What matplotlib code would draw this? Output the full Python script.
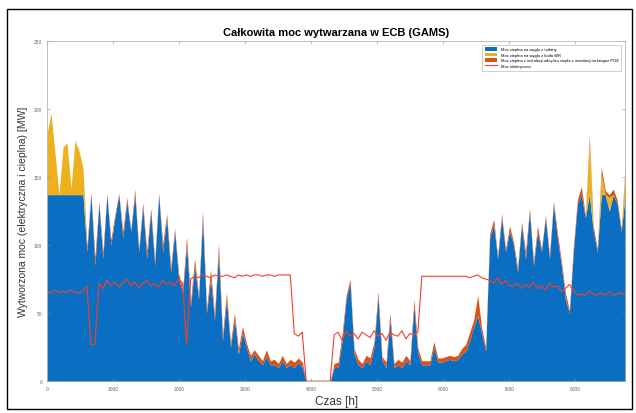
import numpy as np
import matplotlib
matplotlib.use("Agg")
import matplotlib.pyplot as plt
from matplotlib.patches import Rectangle

plt.rcParams['font.family'] = ['Liberation Sans', 'DejaVu Sans']

# heat from coal - turbine [MW]
blue = [137, 137, 137, 137, 137, 137, 137, 137, 137, 137,
        95, 137, 85, 130, 90, 137, 100,
        120, 137, 105, 132, 110, 137, 95, 128,
        90, 125, 85, 137, 95, 120, 80, 110, 75,
        65, 100, 55, 85, 60, 120, 50, 75, 45, 95,
        30, 60, 25, 45, 20, 35, 25, 15, 20, 15, 12, 18, 12,
        12, 10, 15, 10, 12, 10, 14, 10,
        0, 0, 0, 0, 0, 0, 0,
        10, 10, 30, 60, 72, 20, 12, 10, 15, 12, 25, 62, 15, 10, 45, 10, 12, 10, 15, 12,
        55, 20,
        12, 12, 12, 25, 14, 14, 15, 16, 15,
        16, 20, 22, 30, 40, 48, 35, 22, 105,
        115, 90, 120, 95, 110,
        100, 80, 115, 90, 125, 85, 110, 95, 120, 90, 130, 105, 85, 60, 50,
        95, 130, 137, 120, 137, 110, 95, 137, 137, 125, 137, 130, 110, 137]

# heat from coal - WR boiler [MW]
yellow = [45, 60, 30, 0, 35, 38, 5, 40, 32, 20] + [0] * 126 + \
         [40, 0, 0, 15, 0, 10, 0, 0, 0, 20]

# heat from the third unit [MW]
orange = [0] * 10 + \
         [4, 2, 6, 2, 5, 1, 4, 2, 1, 5, 3, 1, 4, 2, 3, 6, 2, 4, 1, 6, 3, 4, 2, 4,
          3, 6, 4, 5, 3, 5, 3, 7, 4, 6, 4, 5, 3, 5, 4, 5, 3, 4, 3, 4, 3, 5, 3, 4,
          3, 4, 3, 4, 4, 3, 4] + \
         [0] * 7 + \
         [3, 4, 5, 3, 3, 4, 4, 3, 4, 5, 4, 4, 3, 4, 5, 3, 4, 4, 4, 3, 5, 4,
          3, 3, 3, 4, 3, 3, 3, 3, 3, 3, 4, 5, 6, 5, 15, 4, 3, 3,
          4, 2, 3, 2, 4, 2, 3, 2, 5, 2, 3, 4, 2, 2, 3, 2, 4, 3, 5, 2, 4, 3, 6, 2,
          3, 4, 2, 5, 3, 2, 4, 3, 2, 2]

# electric power [MW]
electric = [65, 65, 67, 65, 66, 65, 67, 65, 65, 66,
            70, 27, 27,
            72, 68, 74, 70, 73, 69, 72, 75, 70, 73, 68, 72, 74, 70, 72, 69, 74, 71, 73, 70, 75, 72,
            27,
            75, 77, 76, 78, 77, 76, 78, 77, 77, 78, 77, 76, 78, 77, 78, 77, 78, 78, 77, 78,
            78, 77, 78, 78, 78, 78,
            35, 33, 36,
            0, 0, 0, 0, 0, 0, 0,
            34, 36, 30, 37, 33, 35, 31, 36, 34, 32, 37, 33, 35, 30, 36, 34, 33, 37, 31, 35, 34, 36,
            77, 77, 77, 77, 77, 77, 77, 77, 77, 77, 77, 77, 76, 77,
            78, 76, 75, 74, 72, 76, 71, 74, 70,
            70, 72, 68, 71, 69, 73, 68, 70, 67, 72, 69, 70, 66, 68, 71, 67, 63, 64, 63, 66,
            64, 63, 65, 63, 66, 63, 64, 65, 63]

hours = np.linspace(0, 8760, len(blue))

labels = ['Moc cieplna na węglu z turbiny',
          'Moc cieplna na węglu z kotła WR',
          'Moc cieplna z instalacji odzysku ciepła z instalacji na biogaz PGE',
          'Moc elektryczna']

c_blue = '#0a6fc2'
c_yellow = '#EDB120'
c_orange = '#D95319'
c_red = '#F2402A'

b = np.asarray(blue, dtype=float)
y = b + np.asarray(yellow, dtype=float)
o = y + np.asarray(orange, dtype=float)

fig = plt.figure(figsize=(6.36, 4.14), dpi=100)
ax = fig.add_axes([0.074, 0.077, 0.909, 0.822])

ax.fill_between(hours, 0, b, color=c_blue, lw=0, label=labels[0])
ax.fill_between(hours, b, y, color=c_yellow, lw=0, label=labels[1])
ax.fill_between(hours, y, o, color=c_orange, lw=0, label=labels[2])
ax.plot(hours, electric, color=c_red, lw=0.8, label=labels[3])

ax.set_xlim(0, 8760)
ax.set_ylim(0, 250)
ax.set_xticks(np.arange(0, 8001, 1000))
ax.set_yticks(np.arange(0, 251, 50))
ax.tick_params(direction='in', labelsize=3.5, labelcolor='#666666', length=2,
               width=0.4, color='#888888', top=True, right=True)
for s in ax.spines.values():
    s.set_color('#aaaaaa')
    s.set_linewidth(0.5)

ax.set_title('Całkowita moc wytwarzana w ECB (GAMS)', fontsize=8, fontweight='bold', pad=4)
ax.set_xlabel('Czas [h]', fontsize=8.5, color='#333333', labelpad=3)
ax.set_ylabel('Wytworzona moc (elektryczna i cieplna) [MW]', fontsize=7.5, color='#333333', labelpad=4)

leg = ax.legend(loc='upper right', fontsize=3, frameon=True, fancybox=False,
                edgecolor='#999999', handlelength=3, handleheight=1.0,
                borderpad=0.6, labelspacing=0.3, bbox_to_anchor=(0.997, 0.995))
leg.get_frame().set_linewidth(0.4)

fig.patches.append(Rectangle((7 / 636, 1 - 410 / 414), 625 / 636, 400 / 414,
                             transform=fig.transFigure, fill=False, ec='black', lw=1))

fig.savefig('out.png', dpi=100)
